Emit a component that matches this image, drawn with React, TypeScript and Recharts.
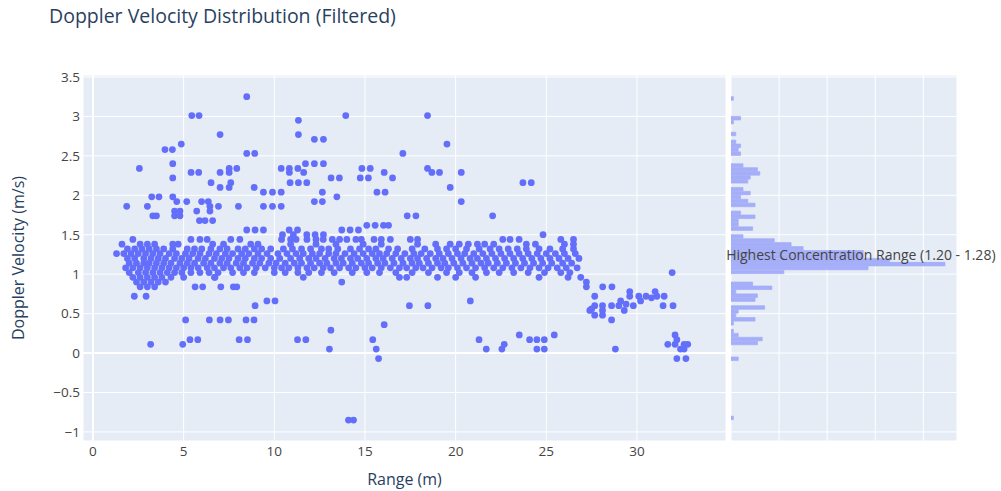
import {
  Bar,
  BarChart,
  CartesianGrid,
  ReferenceDot,
  ReferenceLine,
  Scatter,
  ScatterChart,
  XAxis,
  YAxis,
  ZAxis,
} from "recharts";

const title = "Doppler Velocity Distribution (Filtered)";
const annotationText = "Highest Concentration Range (1.20 - 1.28)";

const velocityTicks = [-1, -0.5, 0, 0.5, 1, 1.5, 2, 2.5, 3, 3.5];
const rangeTicks = [0, 5, 10, 15, 20, 25, 30];
const countTicks = [0, 20, 40, 60, 80];

// main band, one list of ranges (m) per velocity level (m/s)
const band144 = [2.2, 5.4, 5.9, 6.3, 7.6, 8.1, 10.4, 10.9, 11.2, 11.8, 12.3, 12.7, 13.2, 13.6, 14.0, 14.5, 14.8, 15.5, 15.9, 16.4, 17.5, 17.9, 22.6, 23.0, 23.5, 25.8, 26.5];
const band138 = [1.6, 2.6, 3.0, 3.4, 4.4, 4.7, 6.6, 7.2, 8.7, 9.1, 10.9, 12.3, 13.4, 14.9, 15.9, 17.9, 18.9, 19.7, 20.2, 20.7, 21.2, 21.6, 22.1, 23.9, 24.4, 26.0, 26.5];
const band132 = [1.9, 2.3, 2.7, 3.1, 3.5, 3.9, 4.4, 5.2, 5.6, 6.0, 6.5, 7.0, 7.4, 8.0, 8.4, 8.9, 9.3, 9.8, 10.5, 11.0, 11.5, 12.0, 12.6, 13.0, 13.5, 14.2, 14.7, 15.2, 15.6, 16.3, 16.8, 17.6, 18.3, 19.0, 19.5, 20.0, 20.6, 21.3, 21.9, 22.4, 22.9, 23.4, 23.9, 24.6, 25.2, 25.9, 26.5];
const band126 = [1.3, 1.7, 2.1, 2.5, 2.9, 3.3, 3.7, 4.2, 4.6, 5.1, 5.5, 5.9, 6.4, 6.8, 7.3, 7.7, 8.2, 8.6, 9.1, 9.6, 10.2, 10.7, 11.2, 11.6, 12.1, 12.5, 13.0, 13.4, 13.9, 14.4, 14.9, 15.4, 15.8, 16.2, 16.7, 17.2, 17.7, 18.1, 18.6, 19.1, 19.6, 20.1, 20.5, 21.0, 21.5, 22.0, 22.5, 23.0, 23.5, 24.0, 24.5, 25.0, 25.5, 26.0, 26.6];
const band120 = [1.9, 2.3, 2.8, 3.2, 3.6, 4.0, 4.5, 4.9, 5.3, 5.8, 6.2, 6.7, 7.1, 7.5, 8.0, 8.4, 8.9, 9.3, 9.8, 10.3, 10.9, 11.4, 11.9, 12.3, 12.8, 13.3, 13.7, 14.2, 14.6, 15.1, 15.6, 16.0, 16.5, 17.0, 17.5, 17.9, 18.4, 18.9, 19.3, 19.8, 20.3, 20.8, 21.2, 21.7, 22.2, 22.7, 23.2, 23.7, 24.2, 24.7, 25.2, 25.7, 26.2, 26.8];
const band114 = [2.0, 2.4, 2.8, 3.1, 3.5, 3.9, 4.3, 4.8, 5.2, 5.6, 6.1, 6.5, 7.0, 7.4, 7.9, 8.3, 8.8, 9.2, 9.7, 10.1, 10.6, 11.1, 11.5, 12.0, 12.5, 12.9, 13.4, 13.8, 14.3, 14.8, 15.2, 15.7, 16.1, 16.6, 17.1, 17.6, 18.0, 18.5, 19.0, 19.4, 19.9, 20.4, 20.9, 21.4, 21.8, 22.3, 22.8, 23.3, 23.8, 24.3, 24.8, 25.3, 25.9, 26.4];
const band108 = [1.8, 2.2, 2.6, 3.0, 3.4, 3.8, 4.2, 4.6, 5.0, 5.4, 5.8, 6.3, 6.7, 7.2, 7.6, 8.1, 8.5, 9.0, 9.5, 10.0, 10.4, 10.8, 11.3, 11.8, 12.2, 12.7, 13.1, 13.6, 14.1, 14.5, 15.0, 15.4, 15.9, 16.4, 16.9, 17.3, 17.8, 18.2, 18.7, 19.2, 19.6, 20.1, 20.6, 21.1, 21.6, 22.1, 22.6, 23.1, 23.6, 24.1, 24.6, 25.1, 25.6, 26.1, 26.7];
const band102 = [2.0, 2.5, 2.9, 3.3, 3.7, 4.1, 4.5, 4.9, 5.4, 5.9, 6.4, 6.9, 7.7, 8.3, 8.9, 10.0, 10.6, 11.3, 11.9, 12.6, 13.3, 14.3, 15.1, 15.8, 16.7, 17.6, 18.5, 19.5, 20.2, 20.9, 21.7, 22.4, 23.2, 24.0, 24.9, 25.8, 26.3];
const band096 = [2.2, 2.6, 3.0, 3.4, 3.8, 4.3, 5.0, 6.7, 11.6, 16.9, 17.3, 19.0, 20.0, 21.1, 24.6, 26.2, 26.9];
const band090 = [2.4, 2.8, 3.2, 3.6, 4.0];
const band084 = [2.6, 3.0, 3.4];

const bandRows: [number, number[]][] = [
  [1.44, band144],
  [1.38, band138],
  [1.32, band132],
  [1.26, band126],
  [1.2, band120],
  [1.14, band114],
  [1.08, band108],
  [1.02, band102],
  [0.96, band096],
  [0.9, band090],
  [0.84, band084],
];

// scattered returns above the band
const upperPoints: [number, number][] = [
  [8.48, 3.25], [5.45, 3.01], [5.85, 3.01], [13.94, 3.01], [18.45, 3.01],
  [11.33, 2.95], [7.01, 2.77], [11.33, 2.77], [12.21, 2.71], [12.71, 2.71],
  [4.87, 2.65], [19.52, 2.65], [3.97, 2.58], [4.38, 2.58], [8.48, 2.53], [8.92, 2.53], [17.09, 2.53],
  [4.4, 2.4], [11.72, 2.4], [12.21, 2.4], [12.71, 2.4],
  [2.56, 2.34], [7.51, 2.34], [7.93, 2.34], [10.38, 2.34], [10.83, 2.34], [11.3, 2.34], [14.83, 2.34], [15.29, 2.34], [18.45, 2.34],
  [5.41, 2.29], [5.83, 2.29], [7.01, 2.29], [7.51, 2.29], [10.83, 2.29], [11.62, 2.29], [16.06, 2.29], [18.69, 2.29], [19.11, 2.29], [20.31, 2.29],
  [4.4, 2.22], [13.13, 2.22], [13.59, 2.22], [14.74, 2.22], [15.19, 2.22], [16.52, 2.22],
  [6.51, 2.16], [7.6, 2.16], [10.87, 2.16], [11.33, 2.16], [11.79, 2.16], [23.71, 2.16], [24.17, 2.16],
  [7.01, 2.1], [7.51, 2.1], [8.89, 2.1], [19.7, 2.1],
  [9.4, 2.04], [9.9, 2.04], [10.38, 2.04], [12.65, 2.04], [15.66, 2.04], [16.11, 2.04],
  [3.24, 1.98], [3.64, 1.98], [4.4, 1.98], [13.45, 1.98],
  [4.62, 1.92], [5.17, 1.92], [5.99, 1.92], [6.36, 1.92], [12.21, 1.92], [12.65, 1.92], [20.31, 1.92],
  [1.86, 1.86], [3.0, 1.86], [6.45, 1.86], [6.92, 1.86], [8.02, 1.86], [9.4, 1.86], [9.9, 1.86], [10.38, 1.86],
  [4.5, 1.8], [4.8, 1.8], [5.72, 1.8], [6.45, 1.8],
  [3.3, 1.74], [3.5, 1.74], [4.5, 1.74], [4.8, 1.74], [17.33, 1.74], [17.81, 1.74], [22.04, 1.74],
  [5.87, 1.68], [6.18, 1.68], [6.6, 1.68],
  [15.1, 1.62], [15.56, 1.62], [16.02, 1.62], [16.3, 1.62],
  [8.48, 1.56], [8.94, 1.56], [9.4, 1.56], [10.82, 1.56], [11.28, 1.56], [13.72, 1.56], [14.18, 1.56], [14.64, 1.56],
  [10.45, 1.5], [11.05, 1.5], [11.79, 1.5], [12.25, 1.5], [12.71, 1.5], [24.82, 1.5],
];

// scattered returns below the band
const lowerPoints: [number, number][] = [
  [2.28, 0.72], [2.93, 0.72], [5.63, 0.84], [6.05, 0.84], [7.05, 0.84], [7.74, 0.84], [7.93, 0.84], [6.73, 0.96], [13.72, 0.9],
  [8.94, 0.6], [9.59, 0.66], [10.04, 0.66], [17.45, 0.6], [18.47, 0.6], [20.81, 0.66],
  [5.11, 0.42], [6.42, 0.42], [7.01, 0.42], [7.47, 0.42], [8.44, 0.42], [8.88, 0.42],
  [3.18, 0.11], [4.95, 0.11], [5.35, 0.17], [5.78, 0.17], [8.06, 0.17], [8.52, 0.17], [11.28, 0.17], [11.74, 0.17],
  [13.12, 0.29], [13.04, 0.05], [15.43, 0.17], [15.62, 0.05], [15.75, -0.07], [16.06, 0.36],
  [14.09, -0.85], [14.37, -0.85],
  [21.29, 0.17], [21.69, 0.05], [22.55, 0.05], [22.68, 0.11], [23.51, 0.23], [24.08, 0.17], [24.48, 0.17], [24.89, 0.17],
  [24.48, 0.05], [24.89, 0.05], [25.44, 0.23], [28.81, 0.05],
];

// far-range tail
const tailPoints: [number, number][] = [
  [27.21, 0.9], [27.21, 0.84], [28.11, 0.84], [28.62, 0.84], [27.67, 0.72],
  [27.4, 0.54], [27.67, 0.6], [27.67, 0.48], [28.1, 0.6], [28.1, 0.48], [28.6, 0.6], [28.6, 0.42], [28.1, 0.54], [27.5, 0.56],
  [29.1, 0.66], [29.6, 0.78], [29.6, 0.72], [30.1, 0.72], [30.5, 0.72], [31.0, 0.78], [31.5, 0.72],
  [29.0, 0.6], [29.3, 0.54], [29.8, 0.6], [30.2, 0.66], [31.1, 0.72], [29.4, 0.62], [30.8, 0.7],
  [31.44, 0.6], [31.99, 0.6], [31.94, 1.02],
  [32.1, 0.23], [32.2, 0.17], [31.7, 0.11], [32.1, 0.11], [32.6, 0.11], [32.8, 0.11],
  [32.4, 0.05], [32.6, 0.05], [32.2, -0.07], [32.7, -0.07],
];

// marginal histogram, 0.05 m/s bins
const binCenters = [3.225, 2.975, 2.925, 2.775, 2.675, 2.625, 2.575, 2.525, 2.375, 2.325, 2.275, 2.225, 2.175, 2.075, 2.025, 1.975, 1.925, 1.875, 1.775, 1.725, 1.675, 1.625, 1.575, 1.475, 1.425, 1.375, 1.325, 1.275, 1.225, 1.175, 1.125, 1.075, 1.025, 0.875, 0.825, 0.775, 0.725, 0.675, 0.575, 0.525, 0.475, 0.425, 0.375, 0.275, 0.225, 0.175, 0.125, -0.075, -0.825];
const binCounts = [1, 4, 1, 2, 2, 4, 3, 4, 5, 11, 12, 8, 7, 5, 8, 4, 7, 10, 4, 10, 3, 3, 9, 5, 18, 25, 30, 55, 55, 66, 89, 57, 22, 9, 17, 2, 11, 10, 14, 3, 2, 10, 1, 1, 3, 13, 11, 3, 1];

const points = [
  ...bandRows.flatMap(([v, xs]) => xs.map((x) => ({ x, y: v, z: 1 }))),
  ...upperPoints.map(([x, y]) => ({ x, y, z: 1 })),
  ...lowerPoints.map(([x, y]) => ({ x, y, z: 1 })),
  ...tailPoints.map(([x, y]) => ({ x, y, z: 1 })),
];
const bins = binCenters.map((v, i) => ({ v, count: binCounts[i] }));

const FONT = '"Open Sans", verdana, arial, sans-serif';
const BLUE = "#636efa";
const HIST = "#a5aef8";
const BG = "#e5ecf6";
const TITLE_COLOR = "#2a3f5f";
const TICK_COLOR = "#444";
const Y_DOMAIN: [number, number] = [-1.115, 3.525];

const fmtVelocity = (v: number) => String(v).replace("-", "\u2212");

export default function App() {
  return (
    <div style={{ position: "absolute", left: 0, top: 0, width: 1001, height: 491, background: "#fff", fontFamily: FONT }}>
      <div style={{ position: "absolute", left: 49, top: 2, fontSize: 19.5, color: TITLE_COLOR, whiteSpace: "nowrap" }}>
        {title}
      </div>

      <div style={{ position: "absolute", left: 0, top: 0 }}>
        <ScatterChart width={726} height={491} margin={{ top: 75, right: 0, bottom: 0, left: 0 }}>
          <CartesianGrid fill={BG} stroke="#fff" strokeWidth={1} />
          <XAxis
            type="number"
            dataKey="x"
            domain={[-0.55, 34.91]}
            ticks={rangeTicks}
            allowDataOverflow
            axisLine={false}
            tickLine={false}
            tickSize={3}
            tickMargin={2}
            height={50}
            tick={{ fill: TICK_COLOR, fontSize: 13.5, fontFamily: FONT }}
            label={{ value: "Range (m)", position: "insideBottom", offset: 6, fill: TITLE_COLOR, fontSize: 16, fontFamily: FONT }}
          />
          <YAxis
            type="number"
            dataKey="y"
            domain={Y_DOMAIN}
            ticks={velocityTicks}
            allowDataOverflow
            width={83}
            axisLine={false}
            tickLine={false}
            tickSize={1}
            tickMargin={2}
            tickFormatter={fmtVelocity}
            tick={{ fill: TICK_COLOR, fontSize: 13.5, fontFamily: FONT }}
            label={{
              value: "Doppler Velocity (m/s)",
              angle: -90,
              position: "insideLeft",
              offset: 18,
              fill: TITLE_COLOR,
              fontSize: 16,
              fontFamily: FONT,
              style: { textAnchor: "middle" },
            }}
          />
          <ZAxis type="number" dataKey="z" domain={[0, 1]} range={[36, 36]} />
          <ReferenceLine x={0} stroke="#fff" strokeWidth={2} />
          <ReferenceLine y={0} stroke="#fff" strokeWidth={2} />
          <Scatter data={points} fill={BLUE} isAnimationActive={false} />
        </ScatterChart>
      </div>

      <div style={{ position: "absolute", left: 700, top: 0 }}>
        <BarChart
          layout="vertical"
          width={301}
          height={491}
          data={bins}
          margin={{ top: 75, right: 44, bottom: 50, left: 31 }}
          barCategoryGap={0}
          barGap={0}
        >
          <CartesianGrid fill={BG} stroke="#fff" strokeWidth={1} />
          <XAxis type="number" domain={[0, 94]} ticks={countTicks} allowDataOverflow hide />
          <YAxis type="number" dataKey="v" domain={Y_DOMAIN} ticks={velocityTicks} allowDataOverflow reversed hide />
          <Bar dataKey="count" barSize={4} fill={HIST} stroke={HIST} strokeWidth={0.7} isAnimationActive={false} />
          <ReferenceDot
            x={54}
            y={1.24}
            r={0}
            ifOverflow="visible"
            label={{ value: annotationText, position: "center", fill: TICK_COLOR, fontSize: 14, fontFamily: FONT }}
          />
        </BarChart>
      </div>
    </div>
  );
}
